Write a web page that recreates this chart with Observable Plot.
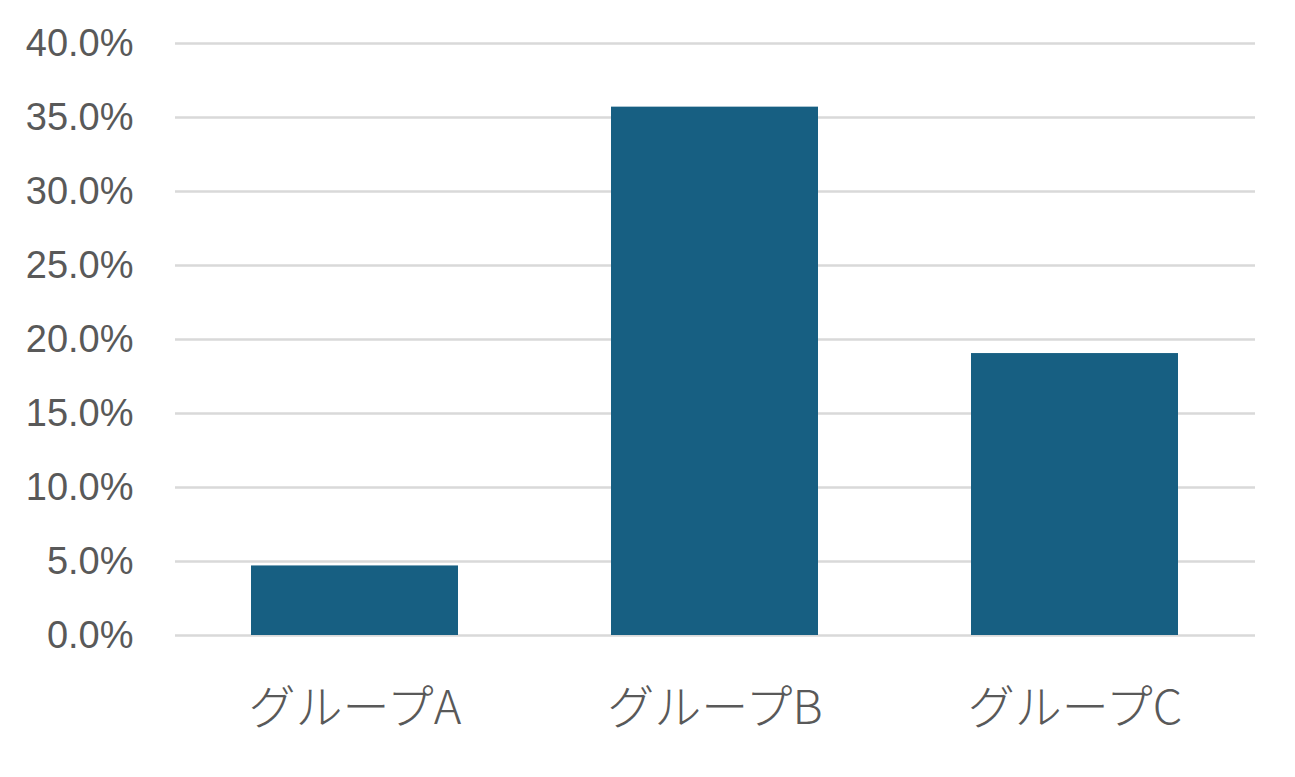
<!DOCTYPE html>
<html><head><meta charset="utf-8">
<script src="https://cdn.jsdelivr.net/npm/d3@7"></script>
<script src="https://cdn.jsdelivr.net/npm/@observablehq/plot@0.6"></script>
<style>
html,body{margin:0;padding:0;background:#fff;}
</style>
</head><body>
<div id="chart"></div>
<script>
const categories = ["グループA", "グループB", "グループC"];
const values = [0.047, 0.357, 0.1905];
const yTicks = [0, 0.05, 0.10, 0.15, 0.20, 0.25, 0.30, 0.35, 0.40];

const data = categories.map((c, i) => ({category: c, value: values[i]}));

const chart = Plot.plot({
  width: 1295,
  height: 777,
  marginLeft: 175,
  marginRight: 40,
  marginTop: 43,
  marginBottom: 142,
  style: {background: "#fff"},
  x: {domain: categories, paddingInner: 0.425, paddingOuter: 0.2125, label: null},
  y: {domain: [0, 0.4], label: null},
  marks: [
    Plot.gridY(yTicks, {stroke: "#d9d9d9", strokeOpacity: 1, strokeWidth: 2.5}),
    Plot.barY(data, {x: "category", y: "value", fill: "#175f82"}),
    Plot.axisY(yTicks, {tickSize: 0, tickPadding: 42, tickFormat: d => (d * 100).toFixed(1) + "%",
      fontSize: 38, fill: "#595959", fontFamily: "Liberation Sans, Arial, sans-serif", label: null}),
    Plot.axisX({tickSize: 0, tickPadding: 55, fontSize: 47, fill: "#595959",
      fontFamily: "Noto Sans CJK JP, sans-serif", fontWeight: 300, label: null})
  ]
});
document.getElementById("chart").appendChild(chart);
</script>
</body></html>
